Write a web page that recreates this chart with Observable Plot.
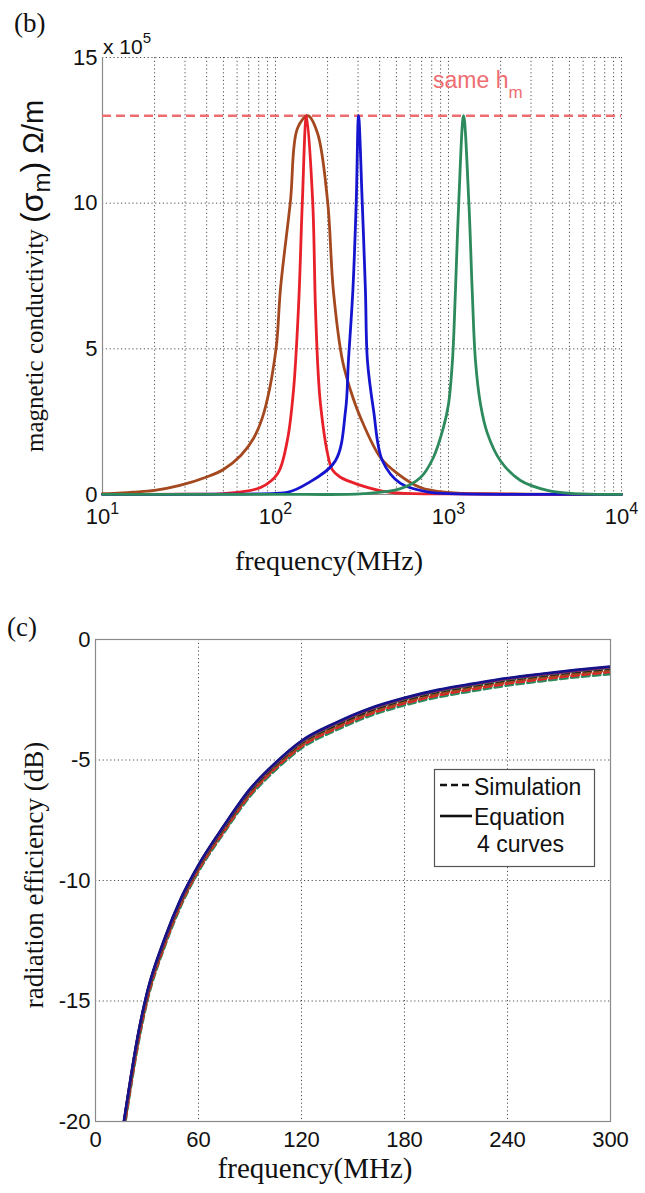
<!DOCTYPE html>
<html><head><meta charset="utf-8">
<script src="https://cdn.jsdelivr.net/npm/d3@7"></script>
<script src="https://cdn.jsdelivr.net/npm/@observablehq/plot@0.6"></script>
<style>
body{margin:0;background:#fff;}
#wrap{position:relative;width:645px;height:1193px;overflow:hidden;background:#fff;}
#wrap svg{position:absolute;left:0;}
</style></head><body><div id="wrap"></div>
<script>
// ---------- panel (b): magnetic conductivity (x 1e5 ohm/m) vs frequency (MHz) ----------
const brown = [[10,0.03],[11.6,0.04],[15,0.08],[20,0.14],[28,0.31],[40,0.6],[50,0.86],[63,1.34],[75,1.95],[84,2.64],[92,3.56],[98,4.5],[102,5.3],[107,7.1],[122,10.07],[134,12.57],[154,13.0],[175,12.4],[200,10.07],[216,7.0],[244,4.59],[272,3.56],[310,2.64],[404,1.27],[507,0.72],[689,0.24],[986,0.07],[2000,0.02],[10000,0.005]];
const red = [[10,0.005],[30,0.01],[50,0.03],[82,0.24],[103,0.72],[117,1.85],[127,3.56],[136,6.5],[143,10.07],[151,13.0],[164,10.07],[170,6.5],[176,4.3],[182,3.1],[200,1.4],[213,0.85],[236,0.6],[298,0.35],[462,0.07],[1000,0.02],[10000,0.005]];
const blue = [[10,0.003],[50,0.01],[100,0.04],[117,0.07],[153,0.38],[222,1.16],[254,2.88],[264,4.59],[280,7.0],[293,10.07],[302,13.0],[317,10.07],[331,7.0],[340,4.59],[369,2.88],[415,1.16],[528,0.38],[787,0.07],[1000,0.03],[10000,0.003]];
const green = [[10,0.003],[100,0.005],[323,0.03],[528,0.2],[689,0.58],[818,1.27],[935,2.3],[1000,3.1],[1054,4.59],[1097,7.0],[1147,10.07],[1222,13.0],[1310,10.07],[1371,7.0],[1432,4.59],[1531,3.1],[1680,2.09],[1995,1.16],[2606,0.48],[3733,0.14],[5284,0.03],[10000,0.005]];
const sameH = 13;
const decadeTicks = [10, 100, 1000, 10000];
const minorGrid = [20,30,40,50,60,70,80,90,100,200,300,400,500,600,700,800,900,1000,2000,3000,4000,5000,6000,7000,8000,9000,10000];
const yTicksB = [0, 5, 10, 15];
const yGridB = [5, 10, 15];

// ---------- panel (c): radiation efficiency (dB) vs frequency (MHz) ----------
const freqC = [16.5,20,25,30,40,50,60,75,90,105,120,140,160,180,200,220,240,260,280,300];
const eqBlue  = [-20.0,-18.4,-16.3,-14.65,-12.45,-10.7,-9.35,-7.7,-6.2,-5.1,-4.2,-3.45,-2.85,-2.42,-2.08,-1.83,-1.6,-1.42,-1.26,-1.12];
const eqRed   = [-20.05,-18.45,-16.35,-14.7,-12.5,-10.74,-9.38,-7.73,-6.23,-5.13,-4.23,-3.48,-2.88,-2.45,-2.11,-1.86,-1.63,-1.45,-1.29,-1.15];
const eqBrown = [-20.05,-18.44,-16.34,-14.69,-12.48,-10.73,-9.37,-7.72,-6.22,-5.12,-4.22,-3.47,-2.87,-2.44,-2.1,-1.85,-1.62,-1.44,-1.28,-1.14];
const eqGreen = [-20.08,-18.48,-16.38,-14.72,-12.52,-10.76,-9.4,-7.75,-6.25,-5.15,-4.25,-3.5,-2.9,-2.47,-2.13,-1.88,-1.65,-1.47,-1.31,-1.17];
const simBlue = [-20.1,-18.5,-16.4,-14.75,-12.55,-10.78,-9.42,-7.78,-6.28,-5.18,-4.28,-3.54,-2.94,-2.5,-2.16,-1.91,-1.68,-1.5,-1.34,-1.2];
const simBrown= [-20.2,-18.6,-16.5,-14.85,-12.63,-10.86,-9.5,-7.86,-6.36,-5.26,-4.36,-3.62,-3.02,-2.58,-2.24,-1.99,-1.76,-1.58,-1.42,-1.28];
const simRed  = [-20.3,-18.7,-16.6,-14.93,-12.7,-10.92,-9.55,-7.92,-6.42,-5.32,-4.42,-3.68,-3.08,-2.64,-2.3,-2.05,-1.82,-1.64,-1.48,-1.34];
const simGreen= [-20.4,-18.8,-16.7,-15.02,-12.78,-11.0,-9.62,-7.99,-6.5,-5.4,-4.5,-3.76,-3.16,-2.72,-2.38,-2.13,-1.9,-1.72,-1.56,-1.43];
const xTicksC = [0, 60, 120, 180, 240, 300];
const yTicksC = [0, -5, -10, -15, -20];

const C = {brown:"#a4481f", red:"#e8202a", blue:"#1515d0", green:"#2c8a5c", navy:"#14148a", sameh:"#ee6d71"};
const SANS = "'Liberation Sans', Arial, sans-serif";
const SERIF = "'Liberation Serif', 'Times New Roman', serif";
const dotted = {stroke:"#333", strokeWidth:1, strokeDasharray:"1.2,2.6", strokeOpacity:0.85};
const axisStyle = {fontSize:"22px", fontFamily:SANS, color:"#111", background:"transparent", overflow:"visible"};

const wrap = document.getElementById("wrap");
const txt = (sel, x, y, fam, size, fill) => sel.append("text").attr("x", x).attr("y", y).attr("text-anchor", "start")
  .attr("font-family", fam).attr("font-size", size).attr("fill", fill || "#111");

// ===== Panel (b) =====
const lineOpts = (col) => ({x: d => d[0], y: d => d[1], stroke: col, strokeWidth: 2.8, curve: "catmull-rom"});
const topPlot = Plot.plot({
  width: 645, height: 580,
  marginLeft: 102, marginRight: 24, marginTop: 57, marginBottom: 86,
  x: {type: "log", domain: [10, 10000]},
  y: {domain: [0, 15]},
  style: axisStyle,
  marks: [
    Plot.ruleX(minorGrid, dotted),
    Plot.ruleY(yGridB, dotted),
    Plot.ruleX([10], {stroke:"#8a8a8a", strokeWidth:1.2}),
    Plot.ruleY([0], {stroke:"#8a8a8a", strokeWidth:1.2}),
    Plot.ruleY([sameH], {stroke: C.sameh, strokeWidth: 2.6, strokeDasharray: "9,5"}),
    Plot.line(brown, lineOpts(C.brown)),
    Plot.line(red, lineOpts(C.red)),
    Plot.line(blue, lineOpts(C.blue)),
    Plot.line(green, lineOpts(C.green)),
    Plot.axisX({ticks: decadeTicks, tickSize: 0, tickPadding: 14, label: null, tickFormat: d => String(Math.round(Math.log10(d)))}),
    Plot.axisY({ticks: yTicksB, tickSize: 0, tickPadding: 5, label: null, tickFormat: d => String(d)})
  ]
});
topPlot.style.top = "0px";
wrap.appendChild(topPlot);

const ts = d3.select(topPlot);
ts.selectAll('g[aria-label="x-axis tick label"] text').each(function(){
  const t = d3.select(this); const e = this.textContent;
  t.text(null);
  t.append("tspan").text("10");
  t.append("tspan").attr("dy","-0.62em").attr("font-size","16px").text(e);
});
txt(ts, 14, 32, SERIF, 27).text("(b)");
const xm = txt(ts, 103, 54, SANS, 21);
xm.append("tspan").text("x 10");
xm.append("tspan").attr("dy",-11).attr("font-size",15).text("5");
const sx = topPlot.scale("x"), sy = topPlot.scale("y");
const sh = txt(ts, sx.apply(820), sy.apply(13.95), SANS, 23, C.sameh);
sh.append("tspan").text("same h");
sh.append("tspan").attr("dy",10).attr("font-size",17).text("m");
txt(ts, 329, 570, SERIF, 28).attr("text-anchor","middle").text("frequency(MHz)");
const yl = ts.append("text").attr("transform","translate(43,452) rotate(-90)").attr("text-anchor","start").attr("fill","#111");
yl.append("tspan").attr("font-family",SERIF).attr("font-size",25).text("magnetic conductivity ");
yl.append("tspan").attr("font-family",SANS).attr("font-size",32).text("(σ");
yl.append("tspan").attr("font-family",SANS).attr("font-size",24).attr("dy",7).text("m");
yl.append("tspan").attr("font-family",SANS).attr("font-size",32).attr("dy",-7).text(")");
yl.append("tspan").attr("font-family",SANS).attr("font-size",29).text(" Ω/m");

// ===== Panel (c) =====
const seriesC = [
  {key:"simGreen", vals: simGreen, color: C.green, dash: true},
  {key:"simRed", vals: simRed, color: C.red, dash: true},
  {key:"simBrown", vals: simBrown, color: C.brown, dash: true},
  {key:"simBlue", vals: simBlue, color: "#222", dash: true},
  {key:"eqGreen", vals: eqGreen, color: C.green, dash: false},
  {key:"eqBrown", vals: eqBrown, color: C.brown, dash: false},
  {key:"eqRed", vals: eqRed, color: "#8a1a6a", dash: false},
  {key:"eqBlue", vals: eqBlue, color: C.navy, dash: false}
];
const rowsOf = s => freqC.map((f, i) => ({f, v: s.vals[i]}));
const botPlot = Plot.plot({
  width: 645, height: 613,
  marginLeft: 95, marginRight: 35, marginTop: 59, marginBottom: 72,
  x: {domain: [0, 300]},
  y: {domain: [-20, 0]},
  style: axisStyle,
  marks: [
    Plot.ruleX(xTicksC.slice(1, -1), dotted),
    Plot.ruleY(yTicksC.slice(1, -1), dotted),
    ...seriesC.map(s => Plot.line(rowsOf(s), {x: "f", y: "v", stroke: s.color, strokeWidth: s.dash ? 3 : 2.6, strokeDasharray: s.dash ? "7,4" : null, curve: "monotone-x", clip: true})),
    Plot.frame({stroke: "#8a8a8a", strokeWidth: 1.2}),
    Plot.axisX({ticks: xTicksC, tickSize: 0, tickPadding: 10, label: null, tickFormat: d => String(d)}),
    Plot.axisY({ticks: yTicksC, tickSize: 0, tickPadding: 5, label: null, tickFormat: d => String(d)})
  ]
});
botPlot.style.top = "580px";
wrap.appendChild(botPlot);
const bs = d3.select(botPlot);
txt(bs, 7, 56, SERIF, 27).text("(c)");
txt(bs, 315, 598, SERIF, 29).attr("text-anchor","middle").text("frequency(MHz)");
bs.append("text").attr("transform","translate(43,295) rotate(-90)").attr("text-anchor","middle").attr("font-family",SERIF).attr("font-size",27).attr("fill","#111").text("radiation efficiency (dB)");
// legend
const lg = bs.append("g");
lg.append("rect").attr("x",434.5).attr("y",189.5).attr("width",160).attr("height",97).attr("fill","#fff").attr("stroke","#555").attr("stroke-width",1.2);
lg.append("line").attr("x1",440).attr("x2",472).attr("y1",205).attr("y2",205).attr("stroke","#111").attr("stroke-width",2.6).attr("stroke-dasharray","7,4");
lg.append("line").attr("x1",440).attr("x2",472).attr("y1",236).attr("y2",236).attr("stroke","#111").attr("stroke-width",2.6);
[["Simulation",215],["Equation",245],["4 curves",272]].forEach(([t,y]) =>
  txt(lg, t === "4 curves" ? 477 : 474, y, SANS, 23).text(t));
</script></body></html>
